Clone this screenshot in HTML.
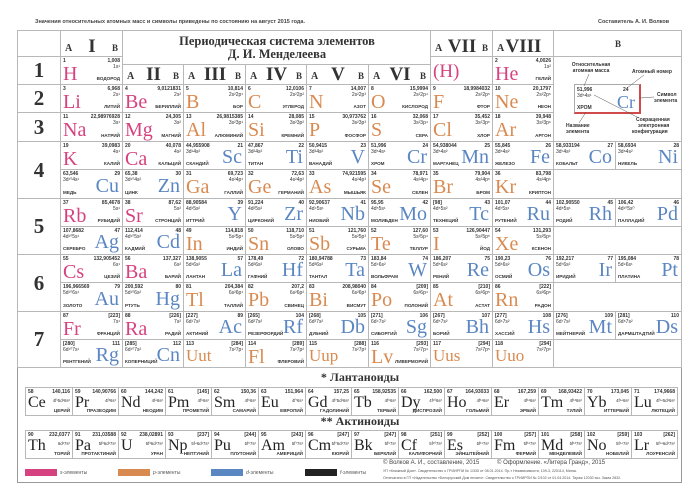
<!DOCTYPE html>
<html><head><meta charset="utf-8">
<style>
body{margin:0;width:700px;height:500px;background:#fff;position:relative;overflow:hidden;font-family:"Liberation Sans",sans-serif;}
.a{position:absolute;white-space:nowrap;}
.c{position:absolute;box-sizing:border-box;border:1px solid #b8b8b8;background:#fff;}
.t{position:absolute;font-size:5px;font-weight:bold;color:#333;line-height:6px;white-space:nowrap;}
.sym{position:absolute;font-family:"Liberation Serif",serif;line-height:1;white-space:nowrap;}
.hd{font-family:"Liberation Serif",serif;font-weight:bold;color:#333;}
</style></head><body>
<div class="a" style="left:17px;top:30px;width:665px;height:453px;border:1px solid #999;box-sizing:border-box;"></div>
<div class="a" style="left:35px;top:19px;font-size:5.5px;font-weight:bold;color:#444;">Значения относительных атомных масс и символы приведены по состоянию на август 2015 года.</div>
<div class="a" style="left:598px;top:19px;font-size:5.5px;font-weight:bold;color:#444;">Составитель А. И. Волков</div>
<div id="root"></div>
<script>
var X=[60,122,183,245,306,368,430,492,553,615,681];
var Y=[56,84,112,141,169,198,226,254,282,311,339,367];
var COL={s:'#d6427f',p:'#d98a50',d:'#5a86c2',f:'#222'};
// [num,sym,mass,config,name,type,col,row,side]
var elements=[
[1,'H','1,008','1s¹','ВОДОРОД','s',0,0,'A'],
[2,'He','4,0026','1s²','ГЕЛИЙ','s',7,0,'A'],
[3,'Li','6,968','2s¹','ЛИТИЙ','s',0,1,'A'],[4,'Be','9,0121831','2s²','БЕРИЛЛИЙ','s',1,1,'A'],[5,'B','10,814','2s²2p¹','БОР','p',2,1,'A'],[6,'C','12,0106','2s²2p²','УГЛЕРОД','p',3,1,'A'],[7,'N','14,007','2s²2p³','АЗОТ','p',4,1,'A'],[8,'O','15,9994','2s²2p⁴','КИСЛОРОД','p',5,1,'A'],[9,'F','18,9984032','2s²2p⁵','ФТОР','p',6,1,'A'],[10,'Ne','20,1797','2s²2p⁶','НЕОН','p',7,1,'A'],
[11,'Na','22,98976928','3s¹','НАТРИЙ','s',0,2,'A'],[12,'Mg','24,305','3s²','МАГНИЙ','s',1,2,'A'],[13,'Al','26,9815385','3s²3p¹','АЛЮМИНИЙ','p',2,2,'A'],[14,'Si','28,085','3s²3p²','КРЕМНИЙ','p',3,2,'A'],[15,'P','30,973762','3s²3p³','ФОСФОР','p',4,2,'A'],[16,'S','32,068','3s²3p⁴','СЕРА','p',5,2,'A'],[17,'Cl','35,452','3s²3p⁵','ХЛОР','p',6,2,'A'],[18,'Ar','39,948','3s²3p⁶','АРГОН','p',7,2,'A'],
[19,'K','39,0983','4s¹','КАЛИЙ','s',0,3,'A'],[20,'Ca','40,078','4s²','КАЛЬЦИЙ','s',1,3,'A'],[21,'Sc','44,955908','3d¹4s²','СКАНДИЙ','d',2,3,'B'],[22,'Ti','47,867','3d²4s²','ТИТАН','d',3,3,'B'],[23,'V','50,9415','3d³4s²','ВАНАДИЙ','d',4,3,'B'],[24,'Cr','51,996','3d⁵4s¹','ХРОМ','d',5,3,'B'],[25,'Mn','54,938044','3d⁵4s²','МАРГАНЕЦ','d',6,3,'B'],[26,'Fe','55,845','3d⁶4s²','ЖЕЛЕЗО','d',7,3,'B'],[27,'Co','58,933194','3d⁷4s²','КОБАЛЬТ','d',8,3,'B'],[28,'Ni','58,6934','3d⁸4s²','НИКЕЛЬ','d',9,3,'B'],
[29,'Cu','63,546','3d¹⁰4s¹','МЕДЬ','d',0,4,'B'],[30,'Zn','65,38','3d¹⁰4s²','ЦИНК','d',1,4,'B'],[31,'Ga','69,723','4s²4p¹','ГАЛЛИЙ','p',2,4,'A'],[32,'Ge','72,63','4s²4p²','ГЕРМАНИЙ','p',3,4,'A'],[33,'As','74,921595','4s²4p³','МЫШЬЯК','p',4,4,'A'],[34,'Se','78,971','4s²4p⁴','СЕЛЕН','p',5,4,'A'],[35,'Br','79,904','4s²4p⁵','БРОМ','p',6,4,'A'],[36,'Kr','83,798','4s²4p⁶','КРИПТОН','p',7,4,'A'],
[37,'Rb','85,4678','5s¹','РУБИДИЙ','s',0,5,'A'],[38,'Sr','87,62','5s²','СТРОНЦИЙ','s',1,5,'A'],[39,'Y','88,90584','4d¹5s²','ИТТРИЙ','d',2,5,'B'],[40,'Zr','91,224','4d²5s²','ЦИРКОНИЙ','d',3,5,'B'],[41,'Nb','92,90637','4d⁴5s¹','НИОБИЙ','d',4,5,'B'],[42,'Mo','95,95','4d⁵5s¹','МОЛИБДЕН','d',5,5,'B'],[43,'Tc','[98]','4d⁵5s²','ТЕХНЕЦИЙ','d',6,5,'B'],[44,'Ru','101,07','4d⁷5s¹','РУТЕНИЙ','d',7,5,'B'],[45,'Rh','102,90550','4d⁸5s¹','РОДИЙ','d',8,5,'B'],[46,'Pd','106,42','4d¹⁰5s⁰','ПАЛЛАДИЙ','d',9,5,'B'],
[47,'Ag','107,8682','4d¹⁰5s¹','СЕРЕБРО','d',0,6,'B'],[48,'Cd','112,414','4d¹⁰5s²','КАДМИЙ','d',1,6,'B'],[49,'In','114,818','5s²5p¹','ИНДИЙ','p',2,6,'A'],[50,'Sn','118,710','5s²5p²','ОЛОВО','p',3,6,'A'],[51,'Sb','121,760','5s²5p³','СУРЬМА','p',4,6,'A'],[52,'Te','127,60','5s²5p⁴','ТЕЛЛУР','p',5,6,'A'],[53,'I','126,90447','5s²5p⁵','ЙОД','p',6,6,'A'],[54,'Xe','131,293','5s²5p⁶','КСЕНОН','p',7,6,'A'],
[55,'Cs','132,905452','6s¹','ЦЕЗИЙ','s',0,7,'A'],[56,'Ba','137,327','6s²','БАРИЙ','s',1,7,'A'],[57,'La','138,9055','5d¹6s²','ЛАНТАН','d',2,7,'B'],[72,'Hf','178,49','5d²6s²','ГАФНИЙ','d',3,7,'B'],[73,'Ta','180,94788','5d³6s²','ТАНТАЛ','d',4,7,'B'],[74,'W','183,84','5d⁴6s²','ВОЛЬФРАМ','d',5,7,'B'],[75,'Re','186,207','5d⁵6s²','РЕНИЙ','d',6,7,'B'],[76,'Os','190,23','5d⁶6s²','ОСМИЙ','d',7,7,'B'],[77,'Ir','192,217','5d⁷6s²','ИРИДИЙ','d',8,7,'B'],[78,'Pt','195,084','5d⁹6s¹','ПЛАТИНА','d',9,7,'B'],
[79,'Au','196,966569','5d¹⁰6s¹','ЗОЛОТО','d',0,8,'B'],[80,'Hg','200,592','5d¹⁰6s²','РТУТЬ','d',1,8,'B'],[81,'Tl','204,384','6s²6p¹','ТАЛЛИЙ','p',2,8,'A'],[82,'Pb','207,2','6s²6p²','СВИНЕЦ','p',3,8,'A'],[83,'Bi','208,98040','6s²6p³','ВИСМУТ','p',4,8,'A'],[84,'Po','[209]','6s²6p⁴','ПОЛОНИЙ','p',5,8,'A'],[85,'At','[210]','6s²6p⁵','АСТАТ','p',6,8,'A'],[86,'Rn','[222]','6s²6p⁶','РАДОН','p',7,8,'A'],
[87,'Fr','[223]','7s¹','ФРАНЦИЙ','s',0,9,'A'],[88,'Ra','[226]','7s²','РАДИЙ','s',1,9,'A'],[89,'Ac','[227]','6d¹7s²','АКТИНИЙ','d',2,9,'B'],[104,'Rf','[265]','6d²7s²','РЕЗЕРФОРДИЙ','d',3,9,'B'],[105,'Db','[268]','6d³7s²','ДУБНИЙ','d',4,9,'B'],[106,'Sg','[271]','6d⁴7s²','СИБОРГИЙ','d',5,9,'B'],[107,'Bh','[267]','6d⁵7s²','БОРИЙ','d',6,9,'B'],[108,'Hs','[277]','6d⁶7s²','ХАССИЙ','d',7,9,'B'],[109,'Mt','[276]','6d⁷7s²','МЕЙТНЕРИЙ','d',8,9,'B'],[110,'Ds','[281]','6d⁸7s²','ДАРМШТАДТИЙ','d',9,9,'B'],
[111,'Rg','[280]','6d¹⁰7s¹','РЕНТГЕНИЙ','d',0,10,'B'],[112,'Cn','[285]','6d¹⁰7s²','КОПЕРНИЦИЙ','d',1,10,'B'],[113,'Uut','[284]','7s²7p¹','','p',2,10,'A'],[114,'Fl','[289]','7s²7p²','ФЛЕРОВИЙ','p',3,10,'A'],[115,'Uup','[288]','7s²7p³','','p',4,10,'A'],[116,'Lv','[293]','7s²7p⁴','ЛИВЕРМОРИЙ','p',5,10,'A'],[117,'Uus','[294]','7s²7p⁵','','p',6,10,'A'],[118,'Uuo','[294]','7s²7p⁶','','p',7,10,'A']
];
var lanthanoids=[[58,'Ce','140,116','4f¹5d¹6s²','ЦЕРИЙ'],[59,'Pr','140,90766','4f³6s²','ПРАЗЕОДИМ'],[60,'Nd','144,242','4f⁴6s²','НЕОДИМ'],[61,'Pm','[145]','4f⁵6s²','ПРОМЕТИЙ'],[62,'Sm','150,36','4f⁶6s²','САМАРИЙ'],[63,'Eu','151,964','4f⁷6s²','ЕВРОПИЙ'],[64,'Gd','157,25','4f⁷5d¹6s²','ГАДОЛИНИЙ'],[65,'Tb','158,92535','4f⁹6s²','ТЕРБИЙ'],[66,'Dy','162,500','4f¹⁰6s²','ДИСПРОЗИЙ'],[67,'Ho','164,93033','4f¹¹6s²','ГОЛЬМИЙ'],[68,'Er','167,259','4f¹²6s²','ЭРБИЙ'],[69,'Tm','168,93422','4f¹³6s²','ТУЛИЙ'],[70,'Yb','173,045','4f¹⁴6s²','ИТТЕРБИЙ'],[71,'Lu','174,9668','4f¹⁴5d¹6s²','ЛЮТЕЦИЙ']];
var actinoids=[[90,'Th','232,0377','6d²7s²','ТОРИЙ'],[91,'Pa','231,03588','5f²6d¹7s²','ПРОТАКТИНИЙ'],[92,'U','238,02891','5f³6d¹7s²','УРАН'],[93,'Np','[237]','5f⁴6d¹7s²','НЕПТУНИЙ'],[94,'Pu','[244]','5f⁶7s²','ПЛУТОНИЙ'],[95,'Am','[243]','5f⁷7s²','АМЕРИЦИЙ'],[96,'Cm','[247]','5f⁷6d¹7s²','КЮРИЙ'],[97,'Bk','[247]','5f⁹7s²','БЕРКЛИЙ'],[98,'Cf','[251]','5f¹⁰7s²','КАЛИФОРНИЙ'],[99,'Es','[252]','5f¹¹7s²','ЭЙНШТЕЙНИЙ'],[100,'Fm','[257]','5f¹²7s²','ФЕРМИЙ'],[101,'Md','[258]','5f¹³7s²','МЕНДЕЛЕВИЙ'],[102,'No','[259]','5f¹⁴7s²','НОБЕЛИЙ'],[103,'Lr','[262]','5f¹⁴6d¹7s²','ЛОУРЕНСИЙ']];

var root=document.getElementById('root');
function box(x,y,w,h,name){var d=document.createElement('div');d.className='c';d.style.cssText='left:'+x+'px;top:'+y+'px;width:'+(w+1)+'px;height:'+(h+1)+'px;';


root.appendChild(d);return d;}
function txt(p,cls,x,y,s,style,name){var t=document.createElement('div');t.className=cls;t.textContent=s;t.style.cssText='left:'+x+'px;top:'+y+'px;'+(style||'');


p.appendChild(t);return t;}
function R(p,cls,x,y,s,style,name){var t=txt(p,cls,0,y,s,style,name);t.style.left='auto';t.style.right=x+'px';return t;}

var periods=[[1,0,1],[2,1,2],[3,2,3],[4,3,5],[5,5,7],[6,7,9],[7,9,11]];
box(17,30,43,26,'corner-cell');
periods.forEach(function(p){var b=box(17,Y[p[1]],43,Y[p[2]]-Y[p[1]],'period-'+p[0]);var h=Y[p[2]]-Y[p[1]];
txt(b,'sym hd',0,h/2-11,String(p[0]),'width:42px;text-align:center;font-size:21px;','period-label-'+p[0]);});

elements.forEach(function(e){var x=X[e[6]],w=X[e[6]+1]-x,y=Y[e[7]],h=Y[e[7]+1]-y;var b=box(x,y,w,h,'cell-'+e[1]);

var c=COL[e[5]];
var fs=e[1].length>2?17:20;
if(e[8]=='A'){txt(b,'t',2,1,String(e[0]),'','atomic-number');R(b,'t',2,1,e[2],'','atomic-mass');R(b,'t',2,7,e[3],'font-weight:normal;','electron-config');
txt(b,'sym',2,7,e[1],'font-size:'+fs+'px;color:'+c+';','symbol');R(b,'t',2,h-9,e[4],'font-size:4.6px;','element-name');}
else{R(b,'t',2,1,String(e[0]),'','atomic-number');txt(b,'t',2,1,e[2],'','atomic-mass');txt(b,'t',2,7,e[3],'font-weight:normal;','electron-config');
R(b,'sym',3,h-23,e[1],'font-size:'+fs+'px;color:'+c+';','symbol');txt(b,'t',2,h-9,e[4],'font-size:4.6px;','element-name');}
});
[4,6,8,10].forEach(function(r){box(553,Y[r],128,Y[r+1]-Y[r],'empty-viii-'+r);});
var hb=box(430,56,62,28,'hydrogen-vii-cell');txt(hb,'sym',2,5,'(H)','font-size:19px;color:#d6427f;','hydrogen-bracket');

function grp(x,y,w,h,num,name,noB){var b=box(x,y,w,h,name);txt(b,'sym hd',4,h-13,'A','font-size:10px;','header-a');if(!noB)R(b,'sym hd',4,h-13,'B','font-size:9px;','header-b');
txt(b,'sym hd',0,h-20,num,'width:'+w+'px;text-align:center;font-size:19px;','group-numeral');}
grp(60,30,62,26,'I','group-i-header');
var tb=box(122,30,308,34,'title-cell');
txt(tb,'sym hd',0,4,'Периодическая система элементов','width:308px;text-align:center;font-size:12.5px;','title-line1');
txt(tb,'sym hd',0,17,'Д. И. Менделеева','width:308px;text-align:center;font-size:12.5px;','title-line2');
grp(122,64,61,20,'II','group-ii-header');grp(183,64,62,20,'III','group-iii-header');grp(245,64,61,20,'IV','group-iv-header');grp(306,64,62,20,'V','group-v-header');grp(368,64,62,20,'VI','group-vi-header');
grp(430,30,62,26,'VII','group-vii-header');
grp(492,30,61,26,'VIII','group-viii-header',true);
var vb=box(553,30,128,26,'group-viii-b-header');txt(vb,'sym hd',0,9,'B','width:128px;text-align:center;font-size:9px;','header-b');
var kb=box(553,56,128,85,'legend-key-cell');
txt(kb,'t',12,5,'Относительная','width:50px;text-align:center;','key-mass-label');
txt(kb,'t',12,11,'атомная масса','width:50px;text-align:center;','key-mass-label2');
txt(kb,'t',78,12,'Атомный номер','','key-number-label');
var mk=txt(kb,'a',20,27,'','width:67px;height:30px;border:1px solid #aaa;border-right:2px solid #d04a4a;border-bottom:2px solid #d04a4a;box-sizing:border-box;','key-sample');
txt(mk,'t',2,2,'51,996','','key-sample-mass');txt(mk,'t',2,8,'3d⁵4s¹','font-weight:normal;','key-sample-config');txt(mk,'t',2,20,'ХРОМ','','key-sample-name');
txt(mk,'t',48,2,'24','','key-sample-number');txt(mk,'sym',42,8,'Cr','font-size:18px;color:#5a86c2;','key-sample-symbol');
txt(kb,'t',103,35,'Символ','','key-symbol-label');txt(kb,'t',100,41,'элемента','','key-symbol-label2');
txt(kb,'t',12,66,'Название','','key-name-label');txt(kb,'t',12,72,'элемента','','key-name-label2');
txt(kb,'t',82,60,'Сокращенная','','key-config-label');txt(kb,'t',84,66,'электронная','','key-config-label2');txt(kb,'t',78,72,'конфигурация','','key-config-label3');
var sv=document.createElementNS('http://www.w3.org/2000/svg','svg');sv.setAttribute('width','128');sv.setAttribute('height','85');sv.style.cssText='position:absolute;left:0;top:0;';


sv.innerHTML='<g stroke="#555" stroke-width="0.5"><line x1="35" y1="17" x2="30" y2="29"/><line x1="90" y1="18" x2="73" y2="31"/><line x1="86" y1="41" x2="100" y2="40"/><line x1="40" y1="38" x2="85" y2="61"/><line x1="25" y1="66" x2="32" y2="55"/></g>';kb.appendChild(sv);

function frow(list,y){var w=46.6;list.forEach(function(e,i){var x=25+i*w;var b=box(Math.round(x),y,Math.round(x+w)-Math.round(x),28,'cell-'+e[1]);

txt(b,'t',2,1,String(e[0]),'','atomic-number');R(b,'t',2,1,e[2],'','atomic-mass');
txt(b,'sym',2,7,e[1],'font-size:16px;color:#222;','symbol');R(b,'t',2,10,e[3],'font-weight:normal;font-size:4.3px;','electron-config');R(b,'t',2,20,e[4],'font-size:4.6px;','element-name');});}
txt(root,'a sym hd',0,371,'* Лантаноиды','width:700px;text-align:center;font-size:12px;left:10px;','lanthanoids-title');
frow(lanthanoids,387);
txt(root,'a sym hd',0,415,'** Актиноиды','width:700px;text-align:center;font-size:12px;left:10px;','actinoids-title');
frow(actinoids,430);
</script>
<div class="a" style="left:25px;top:469px;width:32px;height:7px;background:#d6427f;"></div>
<div class="a" style="left:60px;top:470px;font-size:5px;color:#555;"><i>s</i>-элементы</div>
<div class="a" style="left:118px;top:469px;width:32px;height:7px;background:#d98a50;"></div>
<div class="a" style="left:153px;top:470px;font-size:5px;color:#555;"><i>p</i>-элементы</div>
<div class="a" style="left:211px;top:469px;width:32px;height:7px;background:#5a86c2;"></div>
<div class="a" style="left:246px;top:470px;font-size:5px;color:#555;"><i>d</i>-элементы</div>
<div class="a" style="left:305px;top:469px;width:32px;height:7px;background:#222;"></div>
<div class="a" style="left:340px;top:470px;font-size:5px;color:#555;"><i>f</i>-элементы</div>
<div class="a" style="left:383px;top:460px;font-size:6px;color:#444;">© Волков А. И., составление, 2015</div>
<div class="a" style="left:497px;top:460px;font-size:6px;color:#444;">© Оформление. «Литера Гранд», 2015</div>
<div class="a" style="left:383px;top:469px;font-size:3.6px;color:#555;">УП «Книжный Дом». Свидетельство о ГРИИРПИ № 1/335 от 08.01.2014. Пр-т Независимости, 109-3, 220114, Минск.</div>
<div class="a" style="left:383px;top:476px;font-size:3.6px;color:#555;">Отпечатано в ГП «Издательство «Белорусский Дом печати». Свидетельство о ГРИИРПИ № 2/102 от 01.04.2014. Тираж 12030 экз. Заказ 2832.</div>
</body></html>
